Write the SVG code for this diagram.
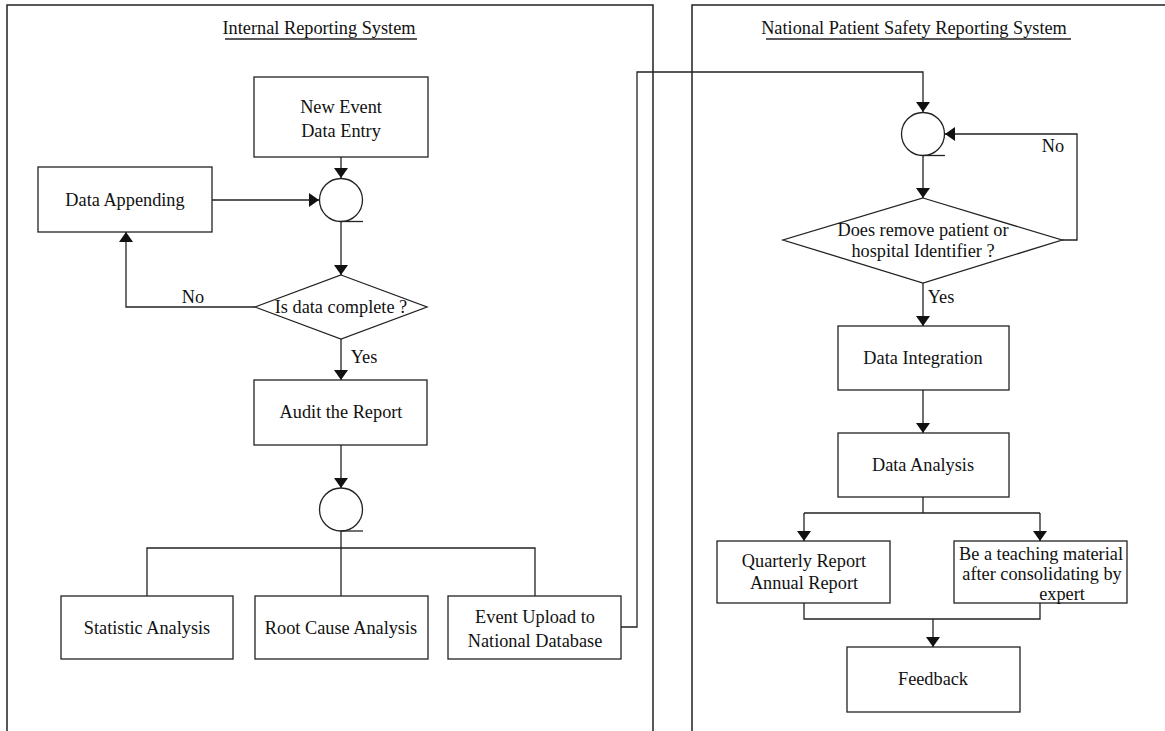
<svg xmlns="http://www.w3.org/2000/svg" width="1165" height="731" viewBox="0 0 1165 731">
<defs>
<marker id="ah" viewBox="0 0 10 14" refX="10" refY="7" markerWidth="10" markerHeight="14" markerUnits="userSpaceOnUse" orient="auto">
<path d="M0,0 L10,7 L0,14 Z" fill="#111"/>
</marker>
</defs>
<style>
text{font-family:"Liberation Serif","Times New Roman",serif;font-size:18.3px;fill:#111;text-anchor:middle}
.box{fill:#fff;stroke:#222;stroke-width:1.3}
.frame{fill:none;stroke:#222;stroke-width:1.5}
.ln{fill:none;stroke:#222;stroke-width:1.3}
.arr{fill:none;stroke:#222;stroke-width:1.3;marker-end:url(#ah)}
</style>
<rect width="1165" height="731" fill="#fff"/>
<g id="frames">
<path class="frame" d="M7,740 V5 H653 V740"/>
<path class="frame" d="M692,740 V5 H1175"/>
<text x="319" y="34">Internal Reporting System</text>
<line class="ln" x1="225" y1="39" x2="417" y2="39"/>
<text x="914" y="34">National Patient Safety Reporting System</text>
<line class="ln" x1="766" y1="39" x2="1071" y2="39"/>
</g>
<g id="connectors">
<path class="arr" d="M341,157 V178"/>
<path class="arr" d="M212,200 H319"/>
<path class="arr" d="M341,222 V275"/>
<path class="arr" d="M255,307 H126 V232"/>
<path class="arr" d="M341,339 V380"/>
<path class="arr" d="M341,445 V488"/>
<path class="ln" d="M341,531 V596 M147,596 V548 H535 V596"/>
<path class="arr" d="M621,627 H637 V72 H923 V112"/>
<path class="arr" d="M1062,240 H1077 V134 H945"/>
<path class="arr" d="M923,156 V198"/>
<path class="arr" d="M923,283 V326"/>
<path class="arr" d="M923,390 V433"/>
<path class="ln" d="M923,497 V513 H804 M923,513 H1040"/>
<path class="arr" d="M804,513 V541"/>
<path class="arr" d="M1040,513 V541"/>
<path class="ln" d="M804,603 V619 H1040 V603"/>
<path class="arr" d="M933,619 V647"/>
<text x="193" y="303">No</text>
<text x="364" y="363">Yes</text>
<text x="1053" y="152">No</text>
<text x="941" y="303">Yes</text>
</g>
<g id="new-event">
<rect class="box" x="254" y="77" width="174" height="80"/>
<text x="341" y="113">New Event</text>
<text x="341" y="137">Data Entry</text>
</g>
<g id="merge1">
<circle class="box" cx="341" cy="200" r="21.5"/>
<line class="ln" x1="341" y1="221.5" x2="363" y2="221.5"/>
</g>
<g id="data-appending">
<rect class="box" x="38" y="167" width="174" height="65"/>
<text x="125" y="206">Data Appending</text>
</g>
<g id="is-complete">
<polygon class="box" points="341,275 427,307 341,339 255,307"/>
<text x="341" y="313">Is data complete ?</text>
</g>
<g id="audit">
<rect class="box" x="254" y="380" width="173" height="65"/>
<text x="341" y="418">Audit the Report</text>
</g>
<g id="merge2">
<circle class="box" cx="341" cy="509.5" r="21.5"/>
<line class="ln" x1="341" y1="531" x2="363" y2="531"/>
</g>
<g id="statistic">
<rect class="box" x="61" y="596" width="172" height="63"/>
<text x="147" y="634">Statistic Analysis</text>
</g>
<g id="root-cause">
<rect class="box" x="255" y="596" width="173" height="63"/>
<text x="341" y="634">Root Cause Analysis</text>
</g>
<g id="upload">
<rect class="box" x="448" y="596" width="173" height="63"/>
<text x="535" y="623">Event Upload to</text>
<text x="535" y="647">National Database</text>
</g>
<g id="merge3">
<circle class="box" cx="923" cy="134" r="21.5"/>
<line class="ln" x1="923" y1="155.5" x2="945" y2="155.5"/>
</g>
<g id="remove-id">
<polygon class="box" points="923,198 1062,240 923,283 783,240"/>
<text x="923" y="236">Does remove patient or</text>
<text x="923" y="257">hospital Identifier ?</text>
</g>
<g id="integration">
<rect class="box" x="838" y="326" width="171" height="64"/>
<text x="923" y="364">Data Integration</text>
</g>
<g id="analysis">
<rect class="box" x="838" y="433" width="171" height="64"/>
<text x="923" y="471">Data Analysis</text>
</g>
<g id="quarterly">
<rect class="box" x="717" y="541" width="173" height="62"/>
<text x="804" y="567">Quarterly Report</text>
<text x="804" y="589">Annual Report</text>
</g>
<g id="teaching">
<rect class="box" x="954" y="541" width="173" height="62"/>
<text x="1041" y="560">Be a teaching material</text>
<text x="1042" y="580">after consolidating by</text>
<text x="1062" y="600">expert</text>
</g>
<g id="feedback">
<rect class="box" x="847" y="647" width="173" height="65"/>
<text x="933" y="685">Feedback</text>
</g>
</svg>
